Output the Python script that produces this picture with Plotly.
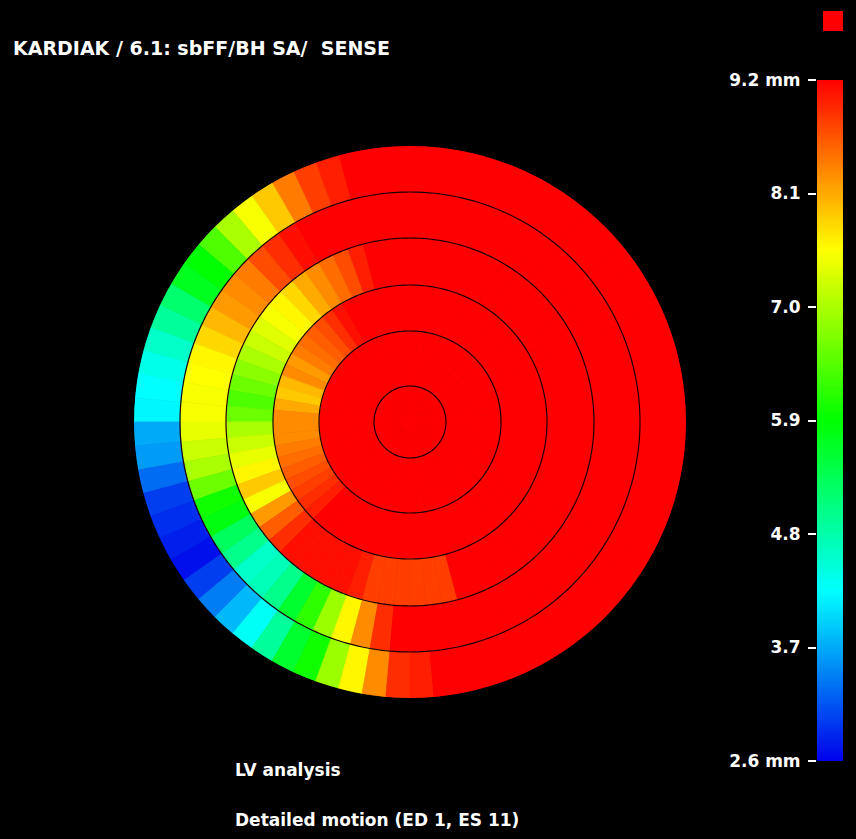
import numpy as np
import plotly.graph_objects as go

# ---------------- data ----------------
VMIN, VMAX = 2.6, 9.2
TICK_VALUES = [2.6, 3.7, 4.8, 5.9, 7.0, 8.1, 9.2]
TICK_TEXT = ["2.6 mm", "3.7", "4.8", "5.9", "7.0", "8.1", "9.2 mm"]

# ring boundaries of the bullseye (radial units)
RING_EDGES = [0, 36, 91, 137, 184, 230, 276]
SECTOR_DEG = 5          # 72 sectors per ring, sector k covers [5k, 5k+5) deg, counter-clockwise from east

CENTER = [9.2] * 72
RING1 = [9.2] * 72
RING2 = ([9.2] * 24 +
         [9.1, 8.9, 8.7, 8.6, 8.5, 8.4, 8.2, 8.3, 8.0, 7.9, 8.1, 8.3, 8.3, 8.3, 8.4, 8.5,
          8.6, 8.7, 8.8, 8.9, 9.0] +
         [9.2] * 27)
RING3 = ([9.2] * 21 +
         [9.0, 8.7, 8.5, 8.3, 8.1, 7.8, 7.6, 7.5, 7.35, 7.2, 7.0, 6.8, 6.6, 6.4, 6.6, 7.0,
          7.2, 7.4, 7.6, 7.9, 7.5, 8.2, 8.6, 8.9] +
         [9.1, 9.1, 9.1, 9.1, 9.1, 9.0, 8.8, 8.8, 8.8, 8.8, 8.8, 8.8] +
         [9.2] * 15)
RING4 = ([9.2] * 24 +
         [9.1, 8.9, 8.7, 8.4, 8.3, 8.2, 8.0, 7.8, 7.6, 7.55, 7.5, 7.5, 7.4, 7.2, 7.0, 6.6,
          6.0, 5.8, 5.3, 5.0, 4.6, 4.7, 5.0, 5.6, 6.2, 6.9, 7.6, 8.3, 8.9] +
         [9.2] * 19)
RING5 = ([9.2] * 21 +
         [9.0, 8.8, 8.4, 7.9, 7.5, 7.0, 6.4, 5.9, 5.7, 5.2, 4.9, 4.6, 4.4, 4.25, 4.2, 3.7,
          3.6, 3.3, 3.0, 2.9, 2.8, 2.7, 3.0, 3.4, 3.8, 4.3, 4.9, 5.6, 6.0, 6.9, 7.6, 8.3,
          8.9, 9.0] +
         [9.2] * 17)
RINGS = [CENTER, RING1, RING2, RING3, RING4, RING5]

# ---------------- style ----------------
CS = [[0.0, "rgb(0,0,235)"], [0.25, "rgb(0,255,255)"], [0.5, "rgb(0,255,0)"],
      [0.75, "rgb(255,255,0)"], [1.0, "rgb(255,0,0)"]]
W, H = 856, 839
FONT = "DejaVu Sans"

fig = go.Figure()

n_sect = len(CENTER)
theta = [SECTOR_DEG * (k + 0.5) for k in range(n_sect)]
for i, vals in enumerate(RINGS):
    inner, outer = RING_EDGES[i], RING_EDGES[i + 1]
    fig.add_trace(go.Barpolar(
        r=[outer - inner] * n_sect, base=[inner] * n_sect, theta=theta,
        width=[SECTOR_DEG] * n_sect,
        marker=dict(color=vals, colorscale=CS, cmin=VMIN, cmax=VMAX,
                    line=dict(color=vals, colorscale=CS, cmin=VMIN, cmax=VMAX, width=0.8)),
        showlegend=False, hoverinfo="skip"))

circ_theta = np.arange(0, 361, 1)
for rr in RING_EDGES[1:-1]:
    fig.add_trace(go.Scatterpolar(
        r=[rr] * len(circ_theta), theta=circ_theta, mode="lines",
        line=dict(color="rgb(30,0,0)", width=1.2), showlegend=False, hoverinfo="skip"))

# colour bar drawn as a heatmap on its own axis
levels = np.linspace(VMIN, VMAX, 331)
fig.add_trace(go.Heatmap(z=levels.reshape(-1, 1), x=[0], y=levels, colorscale=CS,
                         zmin=VMIN, zmax=VMAX, showscale=False, hoverinfo="skip"))

cx, cy, R = 410, 422, RING_EDGES[-1]
fig.update_layout(
    width=W, height=H, margin=dict(l=0, r=0, t=0, b=0, pad=0, autoexpand=False),
    paper_bgcolor="black", plot_bgcolor="black", showlegend=False,
    polar=dict(
        domain=dict(x=[(cx - R) / W, (cx + R) / W], y=[1 - (cy + R) / H, 1 - (cy - R) / H]),
        bgcolor="black", bargap=0, barmode="overlay",
        radialaxis=dict(visible=False, range=[0, R]),
        angularaxis=dict(visible=False)),
    xaxis=dict(domain=[817 / W, 843 / W], range=[-0.5, 0.5], visible=False, automargin=False),
    yaxis=dict(domain=[1 - 761 / H, 1 - 80 / H], range=[VMIN, VMAX], side="left",
               tickvals=TICK_VALUES, ticktext=TICK_TEXT, ticks="outside", ticklen=8,
               tickwidth=1.5, tickcolor="white", showgrid=False, zeroline=False,
               showline=False, ticklabelstandoff=4, automargin=False,
               tickfont=dict(family=FONT, size=17, color="white", weight="bold")),
    shapes=[dict(type="rect", xref="paper", yref="paper",
                 x0=823 / W, x1=843 / W, y0=1 - 31 / H, y1=1 - 11 / H,
                 fillcolor="rgb(255,0,0)", line=dict(width=0))],
    annotations=[
        dict(text="KARDIAK / 6.1: sbFF/BH SA/  SENSE", x=11 / W, y=1 - 48 / H,
             xref="paper", yref="paper", xanchor="left", yanchor="middle", showarrow=False,
             font=dict(family=FONT, size=19, color="white", weight="bold")),
        dict(text="LV analysis", x=233 / W, y=1 - 770 / H,
             xref="paper", yref="paper", xanchor="left", yanchor="middle", showarrow=False,
             font=dict(family=FONT, size=17, color="white", weight="bold")),
        dict(text="Detailed motion (ED 1, ES 11)", x=233 / W, y=1 - 820 / H,
             xref="paper", yref="paper", xanchor="left", yanchor="middle", showarrow=False,
             font=dict(family=FONT, size=17, color="white", weight="bold")),
    ],
)

fig.write_html("out.html")
